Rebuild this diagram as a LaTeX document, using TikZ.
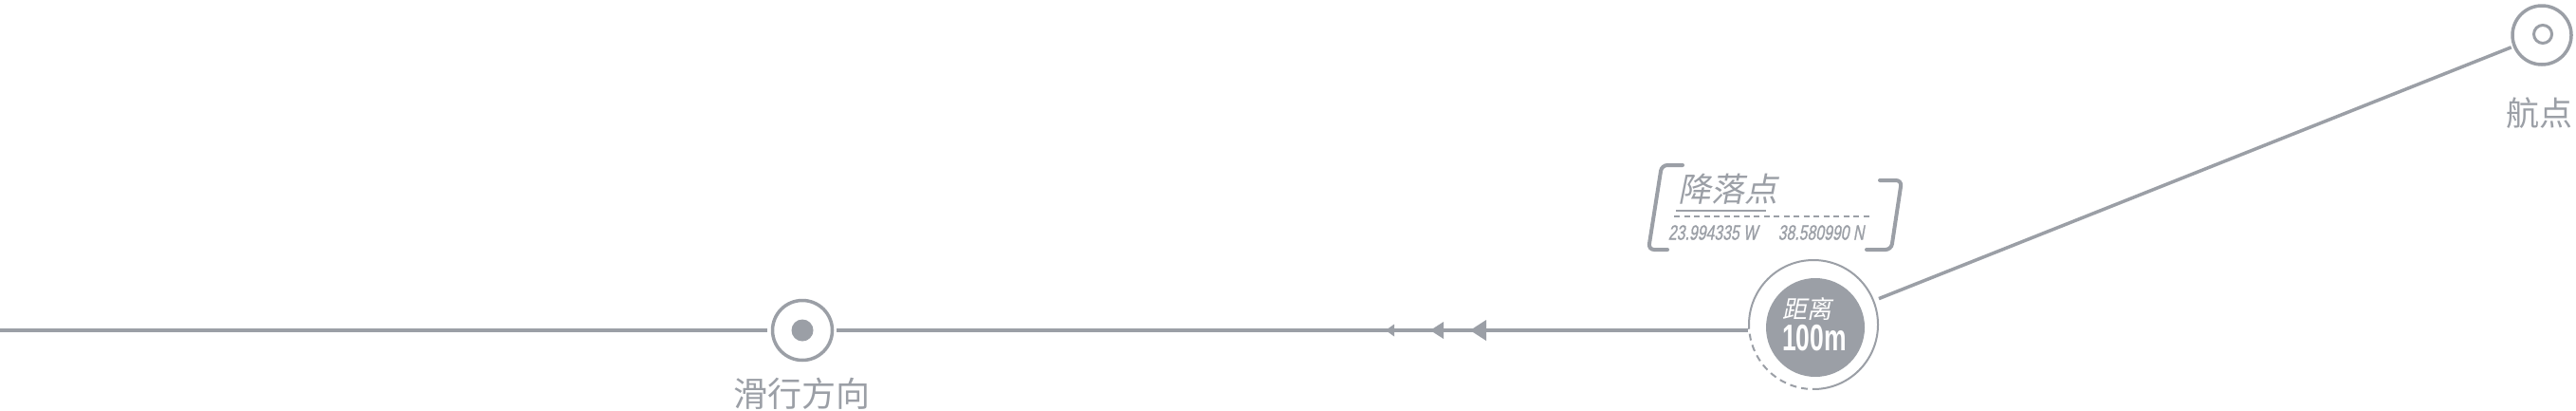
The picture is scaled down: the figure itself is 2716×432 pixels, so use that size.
\documentclass[tikz,border=0pt]{standalone}
\usepackage{fontspec}
\newfontfamily\cjk{Noto Sans CJK SC}
\newfontfamily\cjkit[FakeSlant=0.2]{Noto Sans CJK SC}
\newfontfamily\condit[FakeStretch=0.72,FakeSlant=0.18,FakeBold=0.8]{Liberation Sans}
\newfontfamily\condbold[FakeStretch=0.68]{Liberation Sans}
\definecolor{gr}{RGB}{155,159,166}
\tikzset{
  mainline/.style={draw=gr, line width=4},
  ring/.style={circle, draw=gr, line width=3.5, inner sep=0},
  dot/.style={circle, fill=gr, inner sep=0},
  bracketline/.style={draw=gr, line width=4, rounded corners=6, line cap=round},
  lbl/.style={text=gr, inner sep=0},
  tip/.style={fill=gr},
}
\begin{document}
\begin{tikzpicture}[x=1pt,y=-1pt]
\useasboundingbox[fill=white] (0,0) rectangle (2716,432);
% left ring
\node[ring, minimum size=63] (left) at (846,348) {};
\node[dot, minimum size=23] (leftdot) at (left.center) {};
\node[lbl, font=\cjk\fontsize{36}{40}\selectfont] (lefttxt) at (845,415) {滑行方向};
\coordinate (lstart) at (0,348);
% distance circle
\node[circle, inner sep=0, minimum size=136] (dist) at (1912,342) {};
\node[circle, fill=gr, inner sep=0, minimum size=104] (distin) at (1914,345) {};
\draw[gr, line width=2] (dist.center) ++(180:68) arc[start angle=180, end angle=445, radius=68];
\draw[gr, line width=2, dash pattern=on 7 off 5] (dist.center) ++(85:68) arc[start angle=85, end angle=180, radius=68];
\node[text=white, inner sep=0, font=\cjkit\fontsize{26}{28}\selectfont] (disttxt) at (1905,326) {距离};
\node[text=white, inner sep=0, font=\condbold\bfseries\fontsize{39}{42}\selectfont] (distval) at (1913,356) {100m};
% waypoint
\node[ring, minimum size=62] (wp) at (2680,37) {};
\node[circle, draw=gr, line width=3, inner sep=0, minimum size=19] (wpin) at (2681,36) {};
\node[lbl, font=\cjk\fontsize{35}{40}\selectfont] (wptxt) at (2677,119) {航点};
% lines
\draw[mainline] (lstart) -- ([xshift=-4]left.west);
\draw[mainline] ([xshift=3]left.east) -- ([xshift=-1]dist.west |- left.east);
\draw[gr, line width=3.5, shorten <=6, shorten >=2] (dist) -- (wp);
% arrowheads
\fill[tip] (1461,348) -- (1470,341.5) -- (1470,354.5) -- cycle;
\fill[tip] (1508,348) -- (1522,339) -- (1522,357) -- cycle;
\fill[tip] (1550,348) -- (1567,337) -- (1567,359) -- cycle;
% landing label
\draw[bracketline] (1774,174) -- (1752,174) -- (1738,263) -- (1758,263);
\draw[bracketline] (1982,190) -- (2005,190) -- (1994,263) -- (1968,263);
\node[lbl, font=\cjkit\fontsize{35}{40}\selectfont] (landtxt) at (1822,199) {降落点};
\coordinate (ul1) at (1767,222);
\coordinate (ul2) at (1862,222);
\draw[gr, line width=2.2] (ul1) -- (ul2);
\coordinate (dl1) at (1765,228);
\coordinate (dl2) at (1972,228);
\draw[gr, line width=1.6, dash pattern=on 6 off 4.5] (dl1) -- (dl2);
\node[lbl, font=\condit\fontsize{22}{24}\selectfont] (lon) at (1806,245) {23.994335 W};
\node[lbl, font=\condit\fontsize{22}{24}\selectfont] (lat) at (1920,245) {38.580990 N};
\end{tikzpicture}
\end{document}
